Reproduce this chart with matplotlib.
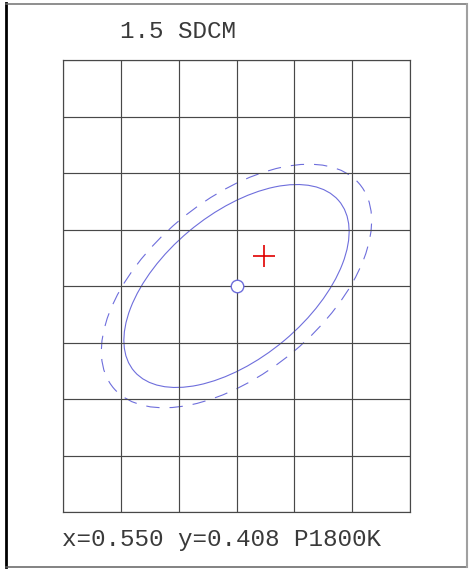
import matplotlib
matplotlib.use("Agg")
import matplotlib.pyplot as plt
from matplotlib.patches import Ellipse
from matplotlib.lines import Line2D

# grid in chromaticity units
x_grid = [0.547, 0.548, 0.549, 0.550, 0.551, 0.552, 0.553]
y_grid = [0.404, 0.405, 0.406, 0.407, 0.408, 0.409, 0.410, 0.411, 0.412]

# target point (planckian) and measured point
target_xy = (0.550, 0.408)
measured_xy = (0.55048, 0.40853)

# ellipse: full width, full height, angle (deg)
ell_width = 0.00465
ell_height = 0.00254
ell_angle = 40.7
ell_scales = [1.0, 1.2]
ell_styles = ["-", (0, (12, 9))]

title = "1.5 SDCM"
footer = "x=0.550 y=0.408 P1800K"

W, H = 469, 569
fig = plt.figure(figsize=(W / 100, H / 100), dpi=100)
ax = fig.add_axes([63 / W, 1 - 512 / H, 347 / W, 452 / H])

ax.set_xlim(x_grid[0], x_grid[-1])
ax.set_ylim(y_grid[0], y_grid[-1])
ax.set_xticks(x_grid)
ax.set_yticks(y_grid)
ax.tick_params(length=0, labelbottom=False, labelleft=False)
ax.grid(True, color="#484848", lw=0.85)
for s in ax.spines.values():
    s.set_color("#484848")
    s.set_linewidth(0.85)

blue = "#6e6edc"
for sc, ls in zip(ell_scales, ell_styles):
    e = Ellipse(target_xy, ell_width * sc, ell_height * sc, angle=ell_angle,
                fill=False, edgecolor=blue, lw=0.8, linestyle=ls)
    ax.add_patch(e)

ax.plot([target_xy[0]], [target_xy[1]], "o", ms=9, mfc="white", mec=blue, mew=1.0, zorder=5)
ax.plot([measured_xy[0]], [measured_xy[1]], "+", ms=16.5, color="#e00000", mew=1.2, zorder=6)

fig.text(120 / W, 1 - 38 / H, title, fontfamily="Liberation Mono", fontsize=17.5,
         color="#3a3a3a", ha="left", va="baseline")
fig.text(62 / W, 1 - 546 / H, footer, fontfamily="Liberation Mono", fontsize=17.5,
         color="#3a3a3a", ha="left", va="baseline")

# frame around the picture
fig.add_artist(Line2D([5.5 / W, 5.5 / W], [1 - 3 / H, 1 - 567 / H], color="black", lw=2.0))
fig.add_artist(Line2D([5.5 / W, 467 / W], [1 - 3.5 / H, 1 - 3.5 / H], color="#707070", lw=1.1))
fig.add_artist(Line2D([5.5 / W, 467 / W], [1 - 567 / H, 1 - 567 / H], color="#606060", lw=1.1))
fig.add_artist(Line2D([467 / W, 467 / W], [1 - 3.5 / H, 1 - 567 / H], color="#a0a0a0", lw=1.5))

fig.savefig("out.png", dpi=100)
